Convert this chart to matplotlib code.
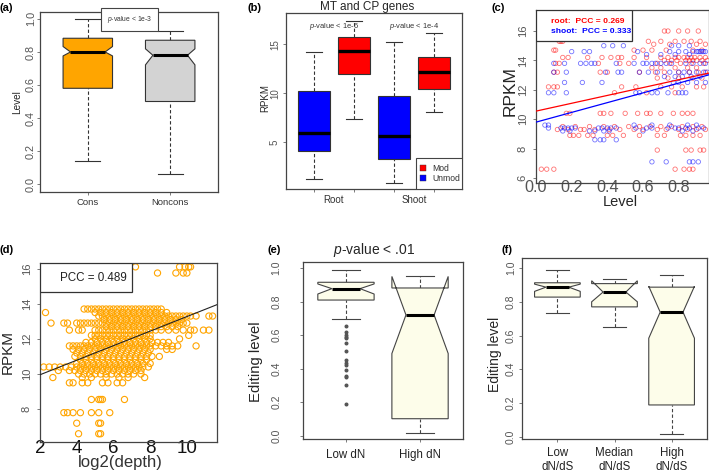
import numpy as np
import matplotlib
matplotlib.use('Agg')
import matplotlib.pyplot as plt
from matplotlib.patches import Polygon, Rectangle

plt.rcParams['font.family'] = ['Liberation Sans', 'DejaVu Sans']
plt.rcParams['mathtext.fontset'] = 'custom'
plt.rcParams['mathtext.it'] = 'Liberation Sans:italic'
plt.rcParams['mathtext.rm'] = 'Liberation Sans'

# ---------------- data ----------------
# (a)
a_groups = ['Cons', 'Noncons']
a_whislo = [0.14, 0.06]
a_q1 = [0.58, 0.50]
a_med = [0.80, 0.78]
a_q3 = [0.883, 0.871]
a_whishi = [0.998, 0.929]
a_cilo = [0.776, 0.722]
a_cihi = [0.833, 0.819]
a_colors = ['#FFA500', '#D3D3D3']

# (b)  order: Root-Unmod, Root-Mod, Shoot-Unmod, Shoot-Mod
b_groups = ['Root', 'Shoot']
b_series = ['Mod', 'Unmod']
b_whislo = [1.26, 7.38, 0.82, 8.06]
b_q1 = [4.08, 11.94, 3.27, 10.41]
b_med = [5.95, 14.35, 5.58, 12.14]
b_q3 = [10.27, 15.71, 9.69, 13.70]
b_whishi = [14.18, 17.35, 15.27, 16.19]
b_colors = ['#0000FF', '#FF0000', '#0000FF', '#FF0000']
b_pvals = ['< 1e-6', '< 1e-4']

# (c) root (red) and shoot (blue): RPKM level bands with editing levels
c_root_y = [16.0, 15.3, 15.1, 14.7, 14.2, 14.0, 13.8, 13.5, 13.2, 12.8, 12.2, 11.8,
            10.4, 9.5, 9.3, 8.9, 7.9, 6.6]
c_root_x = [
    [0.72, 0.74, 0.80, 0.85, 0.91],
    [0.13, 0.14, 0.15, 0.63, 0.70, 0.78, 0.83, 0.87, 0.92],
    [0.66, 0.75, 0.90, 0.95],
    [0.10, 0.11, 0.55, 0.60, 0.65, 0.73, 0.88, 0.93],
    [0.15, 0.18, 0.29, 0.37, 0.42, 0.46, 0.48, 0.55, 0.62, 0.70, 0.74, 0.78, 0.80,
     0.83, 0.85, 0.87, 0.89, 0.92, 0.95],
    [0.72, 0.76, 0.79, 0.84, 0.86, 0.88, 0.90, 0.93, 0.96],
    [0.11, 0.13, 0.35, 0.47, 0.52, 0.68, 0.75, 0.81, 0.87, 0.94],
    [0.65, 0.70, 0.78, 0.85, 0.90],
    [0.10, 0.12, 0.36, 0.40, 0.58, 0.67, 0.72, 0.80, 0.86, 0.91, 0.95],
    [0.68, 0.74, 0.80, 0.88, 0.93],
    [0.07, 0.10, 0.12, 0.48, 0.56, 0.70, 0.76, 0.82, 0.90, 0.94],
    [0.44, 0.62, 0.78],
    [0.17, 0.19, 0.36, 0.38, 0.42, 0.50, 0.57, 0.62, 0.64, 0.70, 0.77, 0.82, 0.85, 0.88],
    [0.15, 0.22, 0.30, 0.38, 0.44, 0.52, 0.58, 0.64, 0.70, 0.76, 0.82, 0.88, 0.93],
    [0.12, 0.18, 0.25, 0.27, 0.33, 0.41, 0.47, 0.55, 0.60, 0.68, 0.73, 0.80, 0.85,
     0.90, 0.95],
    [0.19, 0.21, 0.24, 0.29, 0.32, 0.40, 0.43, 0.49, 0.58, 0.68, 0.72, 0.81, 0.84,
     0.88, 0.92],
    [0.68, 0.84, 0.87, 0.92, 0.94],
    [0.03, 0.06, 0.10, 0.78, 0.83, 0.86, 0.88],
]
c_shoot_y = [15.0, 14.6, 14.4, 13.8, 13.2, 12.9, 12.5, 11.8, 9.6, 9.4, 9.2, 8.6, 7.1]
c_shoot_x = [
    [0.38, 0.43, 0.49, 0.76, 0.80, 0.86],
    [0.20, 0.27, 0.30, 0.57, 0.75, 0.80, 0.84, 0.88, 0.90, 0.91, 0.92, 0.93, 0.94, 0.95],
    [0.62, 0.70, 0.78, 0.86],
    [0.10, 0.16, 0.25, 0.28, 0.31, 0.33, 0.45, 0.55, 0.60, 0.62, 0.65, 0.67, 0.70,
     0.73, 0.76, 0.84, 0.88, 0.92, 0.95],
    [0.10, 0.17, 0.39, 0.46, 0.48, 0.58, 0.63, 0.68, 0.75, 0.80, 0.83, 0.86, 0.90,
     0.94, 0.96],
    [0.72, 0.78, 0.82, 0.87, 0.92],
    [0.16, 0.26, 0.37, 0.77, 0.80, 0.85, 0.90, 0.95],
    [0.07, 0.10, 0.17, 0.56, 0.58, 0.65, 0.68, 0.74, 0.80, 0.82, 0.84],
    [0.05, 0.07, 0.55, 0.65, 0.75, 0.85, 0.90],
    [0.07, 0.14, 0.16, 0.18, 0.20, 0.22, 0.35, 0.37, 0.40, 0.42, 0.45, 0.56, 0.62,
     0.65, 0.74, 0.78, 0.80, 0.84, 0.86, 0.91, 0.94],
    [0.15, 0.19, 0.30, 0.33, 0.38, 0.41, 0.60, 0.82, 0.88],
    [0.33, 0.36, 0.38, 0.45],
    [0.65, 0.73, 0.86, 0.88, 0.91],
]
c_pcc = ['0.269', '0.333']
c_fit_intercept = [10.55, 9.80]
c_fit_slope = [2.67, 3.32]

# (d) RPKM bands vs log2(depth)
d_y = [16.1, 15.75, 13.7, 13.5, 13.3, 13.1, 12.9, 12.7, 12.5, 12.2, 12.0, 11.8, 11.6,
       11.4, 11.2, 11.0, 10.8, 10.6, 10.4, 10.2, 10.0, 9.8, 9.5, 8.55, 7.8, 7.2, 6.6]
d_x = [
    [7.2, 9.6, 9.9, 10.1, 10.2],
    [8.4, 9.4, 9.8, 10.0],
    [4.4, 4.6, 4.8, 5.0, 5.2, 5.4, 5.6, 5.8, 6.0, 6.2, 6.4, 6.6, 6.8, 7.0, 7.2, 7.4,
     7.6, 7.8, 8.0, 8.2, 8.4, 8.6],
    [2.3, 5.0, 5.3, 5.6, 5.9, 6.2, 6.5, 6.8, 7.1, 7.4, 7.7, 8.0, 8.3, 8.6, 8.9],
    [5.2, 5.4, 5.6, 5.8, 6.0, 6.2, 6.4, 6.6, 6.8, 7.0, 7.2, 7.4, 7.6, 7.8, 8.0, 8.2,
     8.4, 8.6, 8.8, 9.0, 9.2, 9.4, 9.6, 9.8, 10.0, 10.2, 10.5, 11.2, 11.4],
    [5.5, 5.8, 6.1, 6.4, 6.7, 7.0, 7.3, 7.6, 7.9, 8.2, 8.5, 8.8, 9.1, 9.4, 9.7],
    [2.6, 3.3, 3.5, 4.0, 4.2, 4.4, 4.6, 4.8, 5.0, 5.2, 5.4, 5.6, 5.8, 6.0, 6.2, 6.4,
     6.6, 6.8, 7.0, 7.2, 7.4, 7.6, 7.8, 8.0, 8.2, 8.4, 8.6, 8.8, 9.0, 9.2, 9.4, 9.6,
     9.8, 10.0],
    [5.6, 5.9, 6.2, 6.5, 6.8, 7.1, 7.4, 7.7, 8.0, 8.3, 8.6, 8.9, 9.2, 9.5],
    [3.6, 4.1, 4.3, 5.0, 5.2, 5.4, 5.6, 5.8, 6.0, 6.2, 6.4, 6.6, 6.8, 7.0, 7.2, 7.4,
     7.6, 7.8, 8.0, 8.3, 8.6, 9.0, 9.4, 9.8, 10.2, 10.4, 10.9, 11.2],
    [4.8, 5.0, 5.2, 5.4, 5.6, 5.8, 6.0, 6.2, 6.4, 6.6, 6.8, 7.0, 7.2, 7.4, 7.6, 7.8,
     8.0, 10.1],
    [5.0, 5.3, 5.6, 5.9, 6.2, 6.5, 6.8, 7.1, 7.4, 7.7, 8.0, 9.6],
    [4.5, 4.8, 5.1, 5.4, 5.7, 6.0, 6.3, 6.6, 6.9, 7.2, 7.5, 7.8, 8.1, 8.4, 8.7, 9.0],
    [3.6, 3.8, 4.0, 4.2, 4.4, 4.6, 4.8, 5.0, 5.2, 5.4, 5.6, 5.8, 6.0, 6.2, 6.4, 6.6,
     6.8, 7.0, 7.2, 7.4, 7.6, 7.8, 8.0, 8.3, 8.6, 8.9, 9.2, 9.5, 10.5],
    [3.8, 4.1, 4.4, 4.7, 5.0, 5.3, 5.6, 5.9, 6.2, 6.5, 6.8, 7.1, 7.4, 7.7, 8.0, 8.9,
     9.2],
    [4.0, 4.3, 4.6, 4.9, 5.2, 5.5, 5.8, 6.1, 6.4, 6.7, 7.0, 7.3, 7.6, 7.9],
    [3.9, 4.2, 4.5, 4.8, 5.1, 5.4, 5.7, 6.0, 6.3, 6.6, 6.9, 7.2, 7.5, 7.8, 8.1, 8.5],
    [4.2, 4.5, 4.8, 5.1, 5.4, 5.7, 6.0, 6.3, 6.6, 6.9, 7.2, 7.5, 7.8],
    [4.0, 4.3, 4.6, 4.9, 5.2, 5.5, 5.8, 6.1, 6.4, 6.7, 7.0, 7.3, 7.6, 8.0],
    [2.2, 2.5, 2.8, 3.1, 3.4, 3.7, 4.0, 4.2, 4.4, 4.6, 4.8, 5.0, 5.2, 5.4, 5.6, 5.8,
     6.0, 6.2, 6.4, 6.6, 6.8, 7.0, 7.2, 7.4, 7.6, 7.9],
    [3.0, 3.6, 3.9, 4.2, 4.5, 4.8, 5.1, 5.4, 5.7, 6.0, 6.3, 6.6, 6.9, 7.2, 7.5],
    [4.1, 4.4, 4.7, 5.0, 5.3, 5.6, 5.9, 6.2, 6.5, 6.8, 7.1, 7.5],
    [2.7, 4.3, 4.8, 5.6, 6.3, 6.8, 7.7],
    [3.6, 3.8, 4.3, 4.6, 5.4, 5.7, 6.2, 6.5],
    [4.8, 5.2, 5.3, 5.4, 6.6],
    [3.3, 3.5, 3.8, 4.2, 4.8, 5.2, 5.8],
    [4.0, 5.2, 5.3],
    [4.1, 5.2, 5.3],
]
d_pcc = '0.489'
d_fit_intercept = 9.13
d_fit_slope = 0.414

# (e)
e_groups = ['Low dN', 'High dN']
e_whislo = [0.698, 0.018]
e_q1 = [0.809, 0.101]
e_med = [0.877, 0.720]
e_q3 = [0.915, 0.881]
e_whishi = [0.990, 0.952]
e_cilo = [0.845, 0.490]
e_cihi = [0.905, 0.950]
e_outliers_low = [0.652, 0.618, 0.600, 0.590, 0.580, 0.553, 0.503, 0.453, 0.433,
                  0.420, 0.394, 0.354, 0.348, 0.300, 0.189]

# (f)
f_groups = ['Low\ndN/dS', 'Median\ndN/dS', 'High\ndN/dS']
f_whislo = [0.731, 0.648, 0.016]
f_q1 = [0.828, 0.770, 0.188]
f_med = [0.887, 0.858, 0.739]
f_q3 = [0.913, 0.908, 0.887]
f_whishi = [0.986, 0.936, 0.958]
f_cilo = [0.862, 0.800, 0.584]
f_cihi = [0.905, 0.925, 0.892]

# ---------------- figure ----------------
W, H = 709, 476
fig = plt.figure(figsize=(W / 100, H / 100), dpi=100)
GRAY = '#555555'
DARK = '#262626'


def add_ax(x0, y0, x1, y1):
    return fig.add_axes([x0 / W, 1 - y1 / H, (x1 - x0) / W, (y1 - y0) / H])


def flab(txt, x, y, fs, rot=0, **kw):
    kw.setdefault('color', DARK)
    fig.text(x / W, 1 - y / H, txt, fontsize=fs, rotation=rot, ha='center',
             va='center', **kw)


def rstyle(ax, xfs, yfs, xcol=GRAY, ycol=GRAY, xpad=1.5, ypad=1.5):
    for s in ax.spines.values():
        s.set_color('#444444')
        s.set_linewidth(0.9)
    ax.tick_params(direction='out', length=2.5, width=0.6, color='#666666')
    ax.tick_params(axis='x', labelsize=xfs, labelcolor=xcol, pad=xpad)
    ax.tick_params(axis='y', labelsize=yfs, labelcolor=ycol, pad=ypad, labelrotation=90)
    plt.setp(ax.get_yticklabels(), va='center')


def rbox(ax, x, lo, q1, med, q3, hi, w, fc, cilo=None, cihi=None, nf=0.5,
         medlw=2.2, ec='#333333'):
    if cilo is not None:
        xs = x + w * np.array([-1, 1, 1, nf, 1, 1, -1, -1, -nf, -1])
        ys = [q1, q1, cilo, med, cihi, q3, q3, cihi, med, cilo]
        mw = nf * w
    else:
        xs = x + w * np.array([-1, 1, 1, -1])
        ys = [q1, q1, q3, q3]
        mw = w
    ax.add_patch(Polygon(np.column_stack([xs, ys]), closed=True, fc=fc, ec=ec,
                         lw=0.8, zorder=2))
    ax.plot([x - mw, x + mw], [med, med], color='black', lw=medlw,
            solid_capstyle='butt', zorder=3)
    for a, b in ((q3, hi), (lo, q1)):
        ax.plot([x, x], [a, b], color=ec, lw=0.8, ls=(0, (3, 2)), zorder=1)
    for v in (hi, lo):
        ax.plot([x - w / 2, x + w / 2], [v, v], color=ec, lw=0.8, zorder=1)


def panel_label(txt, x, y):
    fig.text(x / W, 1 - y / H, txt, fontsize=8, fontweight='bold',
             ha='left', va='center')


# ---- (a)
ax = add_ax(40, 12, 218, 192)
for i in range(2):
    rbox(ax, i + 1, a_whislo[i], a_q1[i], a_med[i], a_q3[i], a_whishi[i], 0.30,
         a_colors[i], a_cilo[i], a_cihi[i], nf=0.7)
ax.set_xlim(0.42, 2.58)
ax.set_ylim(-0.048, 1.042)
ax.set_xticks([1, 2], a_groups)
ax.set_yticks(np.arange(0, 1.01, 0.2), ['0.0', '0.2', '0.4', '0.6', '0.8', '1.0'])
rstyle(ax, 6.8, 7.8, xcol='#333333', xpad=2, ypad=0.5)
flab('Level', 17, 102, 7.2, rot=90)
ax.text(0.503, 0.958, r'$p$-value < 1e-3', transform=ax.transAxes, fontsize=4.9,
        ha='center', va='center', color='#333333',
        bbox=dict(boxstyle='square,pad=0.9', fc='white', ec='#444444', lw=0.8))
panel_label('(a)', 0, 8)

# ---- (b)
ax = add_ax(286, 13, 462, 189)
for i in range(4):
    rbox(ax, i + 1, b_whislo[i], b_q1[i], b_med[i], b_q3[i], b_whishi[i], 0.41,
         b_colors[i], medlw=2.4)
ax.set_xlim(0.3, 4.7)
ax.set_ylim(0.2, 18.2)
ax.set_xticks([1, 2, 3, 4], ['', '', '', ''])
ax.set_yticks([5, 10, 15], ['5', '10', '15'])
rstyle(ax, 7, 7, ypad=1.8)
for j, g in enumerate(b_groups):
    ax.text(1.5 + 2 * j, -0.035, g, transform=ax.get_xaxis_transform(),
            fontsize=7, color='#333333', ha='center', va='top')
    ax.text(1.5 + 2 * j, 16.8, r'$p$-value ' + b_pvals[j], fontsize=5.4,
            color='#333333', ha='center', va='center')
flab('RPKM', 265, 98, 7, rot=90)
flab('MT and CP genes', 367, 7, 8.5)
ax.add_patch(Rectangle((0.739, 0.0), 0.261, 0.176, transform=ax.transAxes,
                       fc='white', ec='#444444', lw=0.8, zorder=4))
for k, (lab, col) in enumerate(zip(b_series, ['#FF0000', '#0000FF'])):
    yy = 0.118 - k * 0.058
    ax.plot([0.778], [yy], marker='s', ms=4, color=col, mec='#333333', mew=0.3,
            transform=ax.transAxes, zorder=5, clip_on=False)
    ax.text(0.83, yy, lab, transform=ax.transAxes, fontsize=6.2, color='#333333',
            va='center', ha='left', zorder=5)
panel_label('(b)', 247, 8)

# ---- (c)
ax = add_ax(536, 10, 709, 183)
for ys, xs, col in ((c_root_y, c_root_x, '#FF0000'), (c_shoot_y, c_shoot_x, '#0000FF')):
    px = [x for y, row in zip(ys, xs) for x in row]
    py = [y for y, row in zip(ys, xs) for x in row]
    ax.scatter(px, py, s=10, facecolors='none', edgecolors=col, linewidths=0.6,
               alpha=0.55, zorder=2)
for b0, m, col in zip(c_fit_intercept, c_fit_slope, ['#FF0000', '#0000FF']):
    ax.axline((0, b0), slope=m, color=col, lw=0.9, zorder=3)
ax.set_xlim(0, 0.97)
ax.set_ylim(5.66, 17.43)
ax.set_xticks([0, 0.2, 0.4, 0.6, 0.8], ['0.0', '0.2', '0.4', '0.6', '0.8'])
ax.set_yticks([6, 8, 10, 12, 14, 16], ['6', '8', '10', '12', '14', '16'])
rstyle(ax, 11.7, 8, xpad=-2, ypad=3.5)
ax.tick_params(axis='x', length=0)
flab('Level', 620, 202, 10.5)
flab('RPKM', 510, 91, 12.5, rot=90)
ax.add_patch(Rectangle((0, 0.821), 0.555, 0.179, transform=ax.transAxes,
                       fc='white', ec='#333333', lw=0.9, zorder=4))
ax.text(0.087, 0.931, 'root:  PCC = ' + c_pcc[0], transform=ax.transAxes,
        fontsize=6.1, fontweight='bold', color='#FF0000', va='center', zorder=5)
ax.text(0.087, 0.873, 'shoot:  PCC = ' + c_pcc[1], transform=ax.transAxes,
        fontsize=6.1, fontweight='bold', color='#0000FF', va='center', zorder=5)
panel_label('(c)', 491, 8)

# ---- (d)
ax = add_ax(40, 263, 217, 442)
px = [x for y, row in zip(d_y, d_x) for x in row]
py = [y for y, row in zip(d_y, d_x) for x in row]
ax.scatter(px, py, s=20, facecolors='none', edgecolors='#FFA500', linewidths=0.8,
           zorder=2)
ax.axline((0, d_fit_intercept), slope=d_fit_slope, color='#222222', lw=0.8, zorder=3)
ax.set_xlim(2, 11.64)
ax.set_ylim(6.13, 16.32)
ax.set_xticks([2, 4, 6, 8, 10], ['2', '4', '6', '8', '10'])
ax.set_yticks([8, 10, 12, 14, 16], ['8', '10', '12', '14', '16'])
rstyle(ax, 13.5, 8, xcol='#111111', xpad=-1.5, ypad=3.5)
ax.tick_params(axis='x', length=0)
flab('log2(depth)', 120, 463, 12, color='#333333')
flab('RPKM', 8, 352, 11, rot=90)
ax.add_patch(Rectangle((0, 0.838), 0.52, 0.162, transform=ax.transAxes,
                       fc='white', ec='#333333', lw=0.9, zorder=4))
ax.text(0.30, 0.916, 'PCC = ' + d_pcc, transform=ax.transAxes, fontsize=8.4,
        color='#222222', ha='center', va='center', zorder=5)
panel_label('(d)', 0, 250)

# ---- (e)
IVORY = '#FDFDEA'
ax = add_ax(303, 262, 463, 439)
for i in range(2):
    rbox(ax, i + 1, e_whislo[i], e_q1[i], e_med[i], e_q3[i], e_whishi[i], 0.38,
         IVORY, e_cilo[i], e_cihi[i], ec='#444444')
ax.scatter([1] * len(e_outliers_low), e_outliers_low, s=3.5, color='#555555', zorder=3)
ax.set_xlim(0.42, 2.58)
ax.set_ylim(-0.02, 1.036)
ax.set_xticks([1, 2], e_groups)
ax.set_yticks(np.arange(0, 1.01, 0.2), ['0.0', '0.2', '0.4', '0.6', '0.8', '1.0'])
rstyle(ax, 8.3, 7.5, xcol='#222222', xpad=4.5, ypad=13)
flab('Editing level', 256, 362, 10.7, rot=90)
flab(r'$p$-value < .01', 374, 250, 10)
panel_label('(e)', 267, 250)

# ---- (f)
ax = add_ax(522, 258, 707, 439)
for i in range(3):
    rbox(ax, i + 1, f_whislo[i], f_q1[i], f_med[i], f_q3[i], f_whishi[i], 0.40,
         IVORY, f_cilo[i], f_cihi[i], ec='#444444')
ax.set_xlim(0.38, 3.62)
ax.set_ylim(-0.014, 1.06)
ax.set_xticks([1, 2, 3], f_groups)
ax.set_yticks(np.arange(0, 1.01, 0.2), ['0.0', '0.2', '0.4', '0.6', '0.8', '1.0'])
rstyle(ax, 8.3, 7.5, xcol='#222222', xpad=3.2, ypad=1.8)
flab('Editing level', 495, 354, 10, rot=90)
panel_label('(f)', 501, 250)

fig.savefig('out.png', dpi=100)
